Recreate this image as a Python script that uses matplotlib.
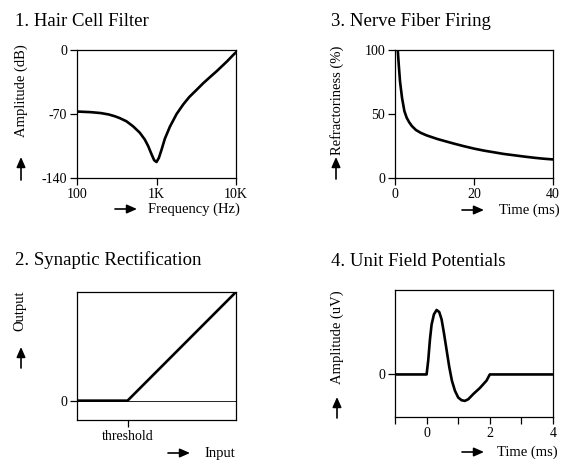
import matplotlib
matplotlib.use("Agg")
import matplotlib.pyplot as plt

plt.rcParams['font.family'] = ['Liberation Serif', 'DejaVu Serif']
plt.rcParams['font.size'] = 10

W, H = 564, 461

# 1. hair cell filter (Hz, dB)
freq = [100, 150, 200, 250, 300, 345, 419, 508, 617, 713, 785, 866, 934, 1000,
        1071, 1158, 1274, 1472, 1790, 2170, 2580, 3200, 3906, 4800, 5760, 6700,
        7700, 9330, 10000]
amp_db = [-67.3, -68, -69, -70.5, -72.5, -74.5, -78, -83.5, -90.5, -98, -105,
          -114, -120.5, -122.5, -118, -109, -97, -84, -70, -59.5, -51.5, -43.5,
          -36, -29, -22.9, -17.5, -12.5, -5, -2.5]

# 3. nerve fiber refractoriness (ms, %)
t_ref = [0.7, 0.95, 1.27, 1.78, 2.38, 2.97, 3.6, 4.3, 5.3, 6.5, 8, 10.8, 13,
         15, 17.5, 20.1, 22.5, 25.2, 27.5, 30.3, 32.8, 35.3, 37.5, 40]
refr = [100, 88.5, 75.5, 62.6, 52.2, 47, 43.5, 40.5, 37.5, 35.3, 33.3, 30.4,
        28.5, 26.8, 24.8, 22.9, 21.4, 20, 18.8, 17.7, 16.7, 15.8, 15.1, 14.5]

# 2. synaptic rectification (input, output)
threshold = 0.318
rect_in = [0, threshold, 1]
rect_out = [0, 0, 1]

# 4. unit field potential (ms, rel. amplitude)
t_ufp = [-1, 0, 0.052, 0.105, 0.158, 0.232, 0.316, 0.40, 0.475, 0.549, 0.633,
         0.717, 0.80, 0.897, 1.0, 1.107, 1.212, 1.32, 1.475, 1.686, 1.897, 2.0, 4]
ufp = [0, 0, 0.22, 0.537, 0.774, 0.932, 1.0, 0.968, 0.853, 0.642, 0.379,
       0.116, -0.095, -0.253, -0.358, -0.40, -0.41, -0.384, -0.305, -0.21,
       -0.095, 0, 0]


def box(x0, y0, x1, y1):
    # pixel box (top-left origin) -> figure fraction rect
    return [x0 / W, 1 - y1 / H, (x1 - x0) / W, (y1 - y0) / H]


def style(ax):
    for s in ax.spines.values():
        s.set_linewidth(0.9)
    ax.tick_params(direction='out', length=5, width=0.9, labelsize=10, pad=2)
    ax.minorticks_off()


def arrow(x0, y0, x1, y1):
    fig.add_artist(matplotlib.patches.FancyArrowPatch(
        (x0, H - y0), (x1, H - y1), transform=None,
        arrowstyle='-|>,head_length=0.5,head_width=0.22',
        mutation_scale=12, lw=1.2, color='k', shrinkA=0, shrinkB=0))


fig = plt.figure(figsize=(W / 100, H / 100), dpi=100)
lw = 1.9

# panel 1
ax1 = fig.add_axes(box(77, 50, 236, 178))
ax1.plot(freq, amp_db, color='k', lw=lw)
ax1.set_xscale('log')
ax1.set_xlim(100, 10000)
ax1.set_ylim(-140, 0)
ax1.set_xticks([100, 1000, 10000])
ax1.set_xticklabels(['100', '1K', '10K'])
ax1.set_yticks([-140, -70, 0])
ax1.set_yticklabels(['-140', '-70', '0'])
style(ax1)

# panel 3
ax3 = fig.add_axes(box(395, 50, 553, 178))
ax3.plot(t_ref, refr, color='k', lw=lw)
ax3.set_xlim(0, 40)
ax3.set_ylim(0, 100)
ax3.set_xticks([0, 20, 40])
ax3.set_yticks([0, 50, 100])
style(ax3)

# panel 2
ax2 = fig.add_axes(box(77, 292, 236, 420))
ax2.axhline(0, color='k', lw=0.6)
ax2.plot(rect_in, rect_out, color='k', lw=lw, solid_capstyle='butt')
ax2.set_xlim(0, 1)
ax2.set_ylim(-0.178, 1)
ax2.set_xticks([threshold])
ax2.set_xticklabels(['threshold'])
ax2.set_yticks([0])
style(ax2)

# panel 4
ax4 = fig.add_axes(box(395, 290, 553, 417))
ax4.plot(t_ufp, ufp, color='k', lw=lw)
ax4.set_xlim(-1, 4)
ax4.set_ylim(-0.66, 1.31)
ax4.set_xticks([-1, 0, 1, 2, 3, 4])
ax4.set_xticklabels(['', '0', '', '2', '', '4'])
ax4.set_yticks([0])
style(ax4)

# titles
tfs = 13.5
fig.text(15 / W, 1 - 26 / H, '1. Hair Cell Filter', fontsize=tfs, va='baseline')
fig.text(331 / W, 1 - 26 / H, '3. Nerve Fiber Firing', fontsize=tfs, va='baseline')
fig.text(15 / W, 1 - 265 / H, '2. Synaptic Rectification', fontsize=tfs, va='baseline')
fig.text(331 / W, 1 - 266 / H, '4. Unit Field Potentials', fontsize=tfs, va='baseline')

# axis labels + arrows
lfs = 10.5
fig.text(21 / W, 1 - 91 / H, 'Amplitude (dB)', rotation=90, fontsize=lfs, ha='center', va='center')
arrow(21, 180, 21, 157)
fig.text(148 / W, 1 - 209 / H, 'Frequency (Hz)', fontsize=lfs, ha='left', va='center')
arrow(115, 209, 137, 209)

fig.text(337 / W, 1 - 100 / H, 'Refractoriness (%)', rotation=90, fontsize=lfs, ha='center', va='center')
arrow(336, 179, 336, 157)
fig.text(499 / W, 1 - 210 / H, 'Time (ms)', fontsize=lfs, ha='left', va='center')
arrow(462, 210, 484, 210)

fig.text(20 / W, 1 - 311 / H, 'Output', rotation=90, fontsize=lfs, ha='center', va='center')
arrow(21, 368, 21, 347)
fig.text(204 / W, 1 - 453 / H, 'Input', fontsize=lfs, ha='left', va='center')
arrow(168, 453, 190, 453)

fig.text(337 / W, 1 - 337 / H, 'Amplitude (uV)', rotation=90, fontsize=lfs, ha='center', va='center')
arrow(337, 418, 337, 397)
fig.text(497 / W, 1 - 452 / H, 'Time (ms)', fontsize=lfs, ha='left', va='center')
arrow(462, 452, 484, 452)

fig.savefig('out.png', dpi=100)
